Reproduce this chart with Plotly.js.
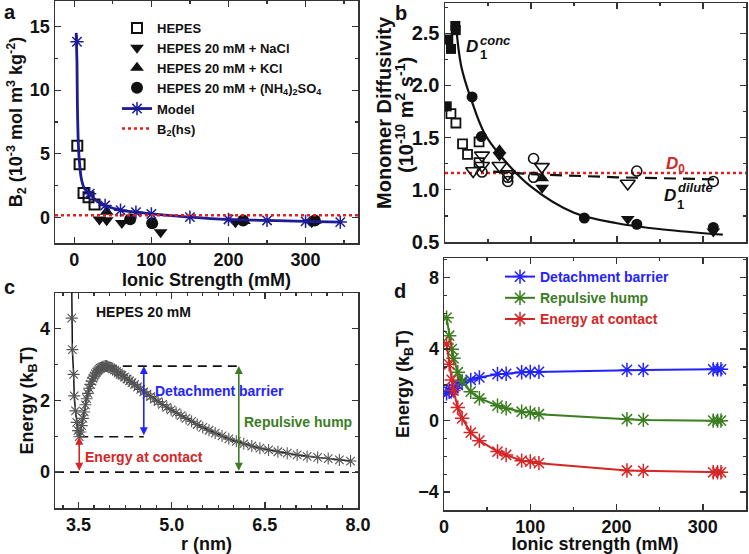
<!DOCTYPE html>
<html><head><meta charset="utf-8">
<script src="https://cdn.plot.ly/plotly-3.0.1.min.js"></script>
<style>body{margin:0;padding:0;background:#fff}#chart{width:749px;height:554px}</style>
</head><body><div id="chart"></div>
<script>
// ---------- Panel a : B2 vs ionic strength ----------
const aHepesX = [3.9, 6.9, 12, 18.5, 26.3];
const aHepesY = [5.63, 4.18, 1.92, 1.6, 1.03];
const aNaClX = [32.6, 42, 61.7, 112, 209, 308];
const aNaClY = [-0.15, -0.22, -0.42, -1.16, -0.37, -0.37];
const aKClX = [42, 220, 312];
const aKClY = [0.45, -0.28, -0.25];
const aAmSX = [72.5, 101, 219, 312];
const aAmSY = [-0.13, -0.45, -0.24, -0.24];
const aModelX = [2.5, 3.5, 4, 5, 6.5, 9, 13, 20, 30, 40, 60, 80, 100, 150, 200, 250, 300, 345];
const aModelY = [14.5, 12.2, 9.0, 6.2, 4.5, 3.1, 2.3, 1.87, 1.25, 0.95, 0.58, 0.42, 0.28, 0.03, -0.15, -0.23, -0.3, -0.36];
const aStarX = [3.5, 20, 40, 60, 80, 100, 150, 200, 250, 300, 345];
const aStarY = [13.8, 1.87, 0.95, 0.58, 0.42, 0.28, 0.03, -0.15, -0.23, -0.3, -0.36];
const aHsX = [-25, 368];
const aHsY = [0.18, 0.18];

// ---------- Panel b : monomer diffusivity ----------
const bConcSqX = [2, 3.8, 7, 12, 12.5];
const bConcSqY = [1.80, 2.44, 2.35, 2.57, 2.53];
const bDilSqX = [6.9, 12.7, 20.4, 26.2, 39.6, 39.6];
const bDilSqY = [1.73, 1.64, 1.44, 1.34, 1.46, 1.26];
const bDilTriX = [32.7, 43, 43, 63.4, 73, 112.6, 212.5];
const bDilTriY = [1.18, 1.33, 1.23, 1.23, 1.15, 1.22, 1.06];
const bDilCircX = [43, 73, 73, 103, 103, 223, 312];
const bDilCircY = [1.17, 1.08, 1.12, 1.30, 1.12, 1.18, 1.08];
const bConcCircX = [31.5, 42.3, 162, 223, 312];
const bConcCircY = [1.89, 1.51, 0.73, 0.67, 0.64];
const bConcDownX = [63.4, 113, 212.5, 312];
const bConcDownY = [1.33, 1.02, 0.72, 0.60];
const bConcUpX = [63.4, 113];
const bConcUpY = [1.38, 1.11];
const bConcFitX = [12.7, 19, 30.7, 46, 65.3, 100, 150, 200, 254, 323];
const bConcFitY = [2.59, 2.18, 1.86, 1.54, 1.32, 1.03, 0.78, 0.68, 0.62, 0.57];
const bDilFitX = [56, 100, 200, 317];
const bDilFitY = [1.175, 1.15, 1.12, 1.10];
const bD0X = [0, 350];
const bD0Y = [1.16, 1.16];

// ---------- Panel c : energy profile, HEPES 20 mM ----------
const cR = [3.385, 3.39, 3.40, 3.42, 3.43, 3.45, 3.47, 3.49, 3.51, 3.53, 3.55, 3.57, 3.59, 3.61, 3.63, 3.65, 3.67, 3.69, 3.71, 3.73, 3.75, 3.77, 3.79, 3.81, 3.83, 3.85, 3.87, 3.89, 3.91, 3.93, 3.95, 3.97, 3.99, 4.02, 4.05, 4.08, 4.11, 4.14, 4.17, 4.20, 4.24, 4.28, 4.32, 4.36, 4.40, 4.45, 4.50, 4.55, 4.60, 4.66, 4.72, 4.78, 4.85, 4.92, 4.99, 5.07, 5.15, 5.23, 5.32, 5.41, 5.50, 5.60, 5.70, 5.81, 5.92, 6.04, 6.16, 6.29, 6.42, 6.56, 6.71, 6.86, 7.02, 7.18, 7.35, 7.52, 7.70, 7.88];
const cE = [6.0, 4.3, 3.42, 2.73, 2.13, 1.71, 1.39, 1.16, 0.99, 1.12, 1.3, 1.5, 1.68, 1.88, 2.05, 2.2, 2.34, 2.45, 2.54, 2.62, 2.68, 2.74, 2.79, 2.83, 2.87, 2.9, 2.92, 2.94, 2.95, 2.96, 2.96, 2.95, 2.93, 2.91, 2.88, 2.85, 2.81, 2.77, 2.73, 2.70, 2.65, 2.60, 2.55, 2.50, 2.45, 2.38, 2.31, 2.24, 2.18, 2.11, 2.04, 1.97, 1.89, 1.81, 1.74, 1.66, 1.58, 1.50, 1.42, 1.33, 1.25, 1.17, 1.09, 1.01, 0.93, 0.86, 0.79, 0.73, 0.67, 0.62, 0.57, 0.53, 0.48, 0.44, 0.41, 0.38, 0.34, 0.31];
const cZeroX = [3.12, 8.0];
const cZeroY = [0, 0];
const cContactX = [3.51, 4.55];
const cContactY = [0.99, 0.99];
const cHumpX = [3.97, 6.08];
const cHumpY = [2.96, 2.96];

// ---------- Panel d : energies vs ionic strength ----------
const dX = [3, 6, 9, 11, 16, 21, 31, 41, 62, 72, 90, 100, 110, 212, 231, 312, 317, 321];
const dDetach = [1.53, 1.62, 1.72, 1.81, 2.0, 2.15, 2.28, 2.42, 2.6, 2.62, 2.71, 2.72, 2.73, 2.84, 2.84, 2.87, 2.87, 2.87];
const dHump = [5.76, 4.75, 4.0, 3.49, 2.71, 2.22, 1.62, 1.25, 0.84, 0.69, 0.5, 0.45, 0.36, 0.08, 0.04, 0.0, 0.0, 0.0];
const dContact = [4.29, 3.15, 2.28, 1.68, 0.73, 0.13, -0.67, -1.12, -1.73, -1.92, -2.24, -2.29, -2.38, -2.79, -2.81, -2.89, -2.89, -2.89];

const FONT = 'Liberation Sans, Arial, sans-serif';
const W = 749, H = 554;
const px = v => v / W;
const py = v => 1 - v / H;

function ax(extra) {
  return Object.assign({
    showline: true, linecolor: '#333', linewidth: 1.5, mirror: 'allticks',
    ticks: 'inside', ticklen: 6, tickwidth: 1.3, tickcolor: '#333',
    showgrid: false, zeroline: false, automargin: false,
    tickfont: {family: FONT, size: 18, weight: 'bold', color: '#111'},
  }, extra);
}
const titleFont = {family: FONT, size: 18, weight: 'bold', color: '#111'};
const minorT = d => ({dtick: d, ticks: 'inside', ticklen: 3, tickcolor: '#333'});
function label(text, x, y, size, color, xa, extra) {
  return Object.assign({text: text, x: px(x), y: py(y), xref: 'paper', yref: 'paper', showarrow: false,
    xanchor: xa || 'center', yanchor: 'middle',
    font: {family: FONT, size: size, weight: 'bold', color: color || '#111'}}, extra || {});
}

const traces = [
  // panel a
  {x: aHepesX, y: aHepesY, xaxis: 'x', yaxis: 'y', mode: 'markers', name: 'HEPES', legend: 'legend', legendgroup: 'g1',
   marker: {symbol: 'square-open', size: 10, color: '#111', line: {width: 2, color: '#111'}}},
  {x: aNaClX, y: aNaClY, xaxis: 'x', yaxis: 'y', mode: 'markers', name: 'HEPES 20 mM + NaCl', legend: 'legend', legendgroup: 'g1',
   marker: {symbol: 'triangle-down', size: 12, color: '#111'}},
  {x: aKClX, y: aKClY, xaxis: 'x', yaxis: 'y', mode: 'markers', name: 'HEPES 20 mM + KCl', legend: 'legend', legendgroup: 'g1',
   marker: {symbol: 'triangle-up', size: 12, color: '#111'}},
  {x: aAmSX, y: aAmSY, xaxis: 'x', yaxis: 'y', mode: 'markers', name: 'HEPES 20 mM + (NH<sub>4</sub>)<sub>2</sub>SO<sub>4</sub>', legend: 'legend', legendgroup: 'g1',
   marker: {symbol: 'circle', size: 12, color: '#111'}},
  {x: aModelX, y: aModelY, xaxis: 'x', yaxis: 'y', mode: 'lines', line: {color: '#1c1c96', width: 2.8, shape: 'spline', smoothing: 0.6},
   showlegend: false},
  {x: aStarX, y: aStarY, xaxis: 'x', yaxis: 'y', mode: 'markers', showlegend: false,
   marker: {symbol: 'asterisk-open', size: 11, color: '#1c1c96', line: {width: 1.5, color: '#1c1c96'}}},
  {x: [null], y: [null], xaxis: 'x', yaxis: 'y', mode: 'lines+markers', name: 'Model', legend: 'legend', legendgroup: 'g2',
   line: {color: '#1c1c96', width: 2.8},
   marker: {symbol: 'asterisk-open', size: 11, color: '#1c1c96', line: {width: 1.5, color: '#1c1c96'}}},
  {x: aHsX, y: aHsY, xaxis: 'x', yaxis: 'y', mode: 'lines', name: 'B<sub>2</sub>(hs)', legend: 'legend', legendgroup: 'g2',
   line: {color: '#e3211c', width: 2.5, dash: 'dot'}},

  // panel b
  {x: bD0X, y: bD0Y, xaxis: 'x2', yaxis: 'y2', mode: 'lines', showlegend: false, line: {color: '#e3211c', width: 2.5, dash: 'dot'}},
  {x: bConcFitX, y: bConcFitY, xaxis: 'x2', yaxis: 'y2', mode: 'lines', showlegend: false, line: {color: '#111', width: 2.2, shape: 'spline'}},
  {x: bDilFitX, y: bDilFitY, xaxis: 'x2', yaxis: 'y2', mode: 'lines', showlegend: false, line: {color: '#111', width: 2.2, dash: '12px,7px'}},
  {x: bConcSqX, y: bConcSqY, xaxis: 'x2', yaxis: 'y2', mode: 'markers', showlegend: false, marker: {symbol: 'square', size: 10, color: '#111'}},
  {x: bDilSqX, y: bDilSqY, xaxis: 'x2', yaxis: 'y2', mode: 'markers', showlegend: false, marker: {symbol: 'square-open', size: 9, color: '#111', line: {width: 1.8}}},
  {x: bDilTriX, y: bDilTriY, xaxis: 'x2', yaxis: 'y2', mode: 'markers', showlegend: false, marker: {symbol: 'triangle-down-open', size: 13, color: '#111', line: {width: 1.6}}},
  {x: bDilCircX, y: bDilCircY, xaxis: 'x2', yaxis: 'y2', mode: 'markers', showlegend: false, marker: {symbol: 'circle-open', size: 10, color: '#111', line: {width: 1.6}}},
  {x: bConcCircX, y: bConcCircY, xaxis: 'x2', yaxis: 'y2', mode: 'markers', showlegend: false, marker: {symbol: 'circle', size: 11, color: '#111'}},
  {x: bConcDownX, y: bConcDownY, xaxis: 'x2', yaxis: 'y2', mode: 'markers', showlegend: false, marker: {symbol: 'triangle-down', size: 12, color: '#111'}},
  {x: bConcUpX, y: bConcUpY, xaxis: 'x2', yaxis: 'y2', mode: 'markers', showlegend: false, marker: {symbol: 'triangle-up', size: 12, color: '#111'}},

  // panel c
  {x: cZeroX, y: cZeroY, xaxis: 'x3', yaxis: 'y3', mode: 'lines', showlegend: false, line: {color: '#111', width: 1.6, dash: '9px,6px'}},
  {x: cContactX, y: cContactY, xaxis: 'x3', yaxis: 'y3', mode: 'lines', showlegend: false, line: {color: '#111', width: 1.6, dash: '9px,6px'}},
  {x: cHumpX, y: cHumpY, xaxis: 'x3', yaxis: 'y3', mode: 'lines', showlegend: false, line: {color: '#111', width: 1.6, dash: '9px,6px'}},
  {x: cR, y: cE, xaxis: 'x3', yaxis: 'y3', mode: 'lines+markers', showlegend: false, line: {color: '#111', width: 1.5},
   marker: {symbol: 'asterisk-open', size: 10, color: '#555', line: {width: 1.1, color: '#4a4a4a'}}},

  // panel d
  {x: dX, y: dDetach, xaxis: 'x4', yaxis: 'y4', mode: 'lines+markers', legend: 'legend2',
   name: '<span style="color:#2323ff">Detachment barrier</span>',
   line: {color: '#2323ff', width: 2}, marker: {symbol: 'asterisk-open', size: 12, color: '#2323ff', line: {width: 1.5, color: '#2323ff'}}},
  {x: dX, y: dHump, xaxis: 'x4', yaxis: 'y4', mode: 'lines+markers', legend: 'legend2',
   name: '<span style="color:#3b7d1f">Repulsive hump</span>',
   line: {color: '#3b7d1f', width: 2}, marker: {symbol: 'asterisk-open', size: 12, color: '#3b7d1f', line: {width: 1.5, color: '#3b7d1f'}}},
  {x: dX, y: dContact, xaxis: 'x4', yaxis: 'y4', mode: 'lines+markers', legend: 'legend2',
   name: '<span style="color:#d42626">Energy at contact</span>',
   line: {color: '#d42626', width: 2}, marker: {symbol: 'asterisk-open', size: 12, color: '#d42626', line: {width: 1.5, color: '#d42626'}}},
];

const layout = {
  width: W, height: H,
  margin: {l: 0, r: 0, t: 0, b: 0},
  paper_bgcolor: '#fff', plot_bgcolor: '#fff',
  font: {family: FONT, weight: 'bold', color: '#111'},
  showlegend: true,
  xaxis: ax({domain: [px(55), px(358)], anchor: 'y', range: [-25, 368], tickvals: [0, 100, 200, 300], minor: minorT(50),
    title: {text: 'Ionic Strength (mM)', font: titleFont, standoff: 2}}),
  yaxis: ax({domain: [py(243), py(1)], anchor: 'x', range: [-2, 17], tickvals: [0, 5, 10, 15], minor: minorT(2.5),
    title: {text: 'B<sub>2</sub> (10<sup>-3</sup> mol m<sup>3</sup> kg<sup>-2</sup>)', font: titleFont, standoff: 2}}),
  xaxis2: ax({domain: [px(445), px(746)], anchor: 'y2', range: [0, 350], dtick: 100, showticklabels: false, minor: minorT(50)}),
  yaxis2: ax({domain: [py(242), py(3)], anchor: 'x2', range: [0.5, 2.79], tickvals: [0.5, 1.0, 1.5, 2.0, 2.5], tickformat: '.1f',
    minor: minorT(0.25), tickfont: {family: FONT, size: 20, weight: 'bold', color: '#111'}}),
  xaxis3: ax({domain: [px(55), px(358)], anchor: 'y3', range: [3.12, 8.0], tickvals: [3.5, 5.0, 6.5, 8.0], tickformat: '.1f',
    minor: {dtick: 0.25, tick0: 3.5, ticks: 'inside', ticklen: 3, tickcolor: '#333'},
    title: {text: 'r (nm)', font: titleFont, standoff: 3}}),
  yaxis3: ax({domain: [py(508), py(293)], anchor: 'x3', range: [-1, 5], tickvals: [0, 2, 4], minor: minorT(1),
    title: {text: 'Energy (k<sub>B</sub>T)', font: titleFont, standoff: 1}}),
  xaxis4: ax({domain: [px(444), px(746)], anchor: 'y4', range: [0, 350], tickvals: [0, 100, 200, 300], minor: minorT(50),
    title: {text: 'Ionic strength (mM)', font: titleFont, standoff: 5}}),
  yaxis4: ax({domain: [py(510), py(258)], anchor: 'x4', range: [-5, 9.1], tickvals: [-4, 0, 4, 8], minor: minorT(1),
    title: {text: 'Energy (k<sub>B</sub>T)', font: titleFont, standoff: 4}}),
  legend: {x: px(117), y: py(13), xanchor: 'left', yanchor: 'top', bgcolor: 'rgba(0,0,0,0)',
    font: {family: FONT, size: 13, weight: 'bold', color: '#111'}, tracegroupgap: 1, itemwidth: 30},
  legend2: {x: px(500), y: py(261), xanchor: 'left', yanchor: 'top', bgcolor: 'rgba(0,0,0,0)',
    font: {family: FONT, size: 14, weight: 'bold'}, itemwidth: 30},
  annotations: [
    label('a', 10, 12, 20),
    label('b', 401, 13, 20),
    label('c', 9, 287, 20),
    label('d', 400, 291, 20),
    // panel b axis title (two lines)
    label('Monomer Diffusivity', 384, 113, 20, null, 'center', {textangle: -90}),
    label('(10<sup>-10</sup> m<sup>2</sup> s<sup>-1</sup>)', 404, 115, 20, null, 'center', {textangle: -90}),
    // panel b labels
    label('<i>D</i>', 472, 47, 17),
    label('1', 478, 55, 13, null, 'left'),
    label('<i>conc</i>', 478, 40, 13, null, 'left'),
    label('<i>D</i><sub>0</sub>', 675, 165, 17, '#d42626'),
    label('<i>D</i>', 669.5, 196, 17),
    label('1', 675, 204, 13, null, 'left'),
    label('<i>dilute</i>', 676, 188, 13, null, 'left'),
    // panel c labels
    label('HEPES 20 mM', 143, 312, 14),
    label('Detachment barrier', 219, 391, 14, '#2323ff'),
    label('Repulsive hump', 298, 422, 14, '#3b7d1f'),
    label('Energy at contact', 144, 457, 14, '#d42626'),
    // arrows panel c
    {x: 4.55, y: 2.96, ax: 4.55, ay: 0.99, xref: 'x3', yref: 'y3', axref: 'x3', ayref: 'y3', text: '', showarrow: true, arrowhead: 2, arrowside: 'end+start', arrowsize: 1, arrowwidth: 1.6, arrowcolor: '#2323ff'},
    {x: 6.08, y: 2.96, ax: 6.08, ay: 0, xref: 'x3', yref: 'y3', axref: 'x3', ayref: 'y3', text: '', showarrow: true, arrowhead: 2, arrowside: 'end+start', arrowsize: 1, arrowwidth: 1.6, arrowcolor: '#3b7d1f'},
    {x: 3.51, y: 0.99, ax: 3.51, ay: 0, xref: 'x3', yref: 'y3', axref: 'x3', ayref: 'y3', text: '', showarrow: true, arrowhead: 2, arrowside: 'end+start', arrowsize: 1, arrowwidth: 1.6, arrowcolor: '#d42626'},
  ],
};

Plotly.newPlot('chart', traces, layout, {staticPlot: true, displayModeBar: false});
</script>
</body></html>
